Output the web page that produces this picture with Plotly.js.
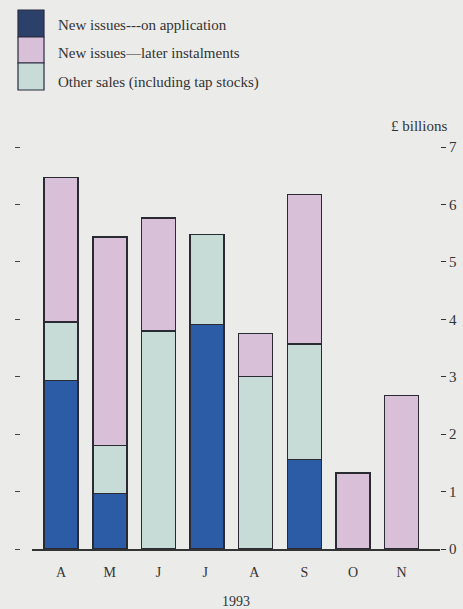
<!DOCTYPE html>
<html>
<head>
<meta charset="utf-8">
<script src="https://cdn.plot.ly/plotly-3.0.1.min.js"></script>
<style>html,body{margin:0;padding:0;background:#ebebea;}</style>
</head>
<body>
<div id="chart" style="width:463px;height:609px;"></div>
<script>
var months = ["A", "M", "J", "J ", "A ", "S", "O", "N"];
var onApplication = [2.93, 0.97, 0, 3.91, 0, 1.56, 0, 0];
var otherSales = [1.02, 0.83, 3.80, 1.57, 3.00, 2.01, 0, 0];
var laterInstalments = [2.52, 3.63, 1.96, 0, 0.75, 2.60, 1.32, 2.67];
var yTicks = [0, 1, 2, 3, 4, 5, 6, 7];
var seriesNames = ["New issues---on application", "New issues\u2014later instalments", "Other sales (including tap stocks)"];

var cDark = "#2c5ca6", cPink = "#d8c0d8", cGreen = "#c7dbd7";
var line = {color: "#2a2a33", width: 1.5};
var font = "Liberation Serif, Times New Roman, serif";
function keepX(a) { return months.filter(function(m, i){ return a[i] !== 0; }); }
function keepY(a) { return a.filter(function(v){ return v !== 0; }); }

var traces = [
  {type: "bar", x: keepX(onApplication), y: keepY(onApplication), name: seriesNames[0], marker: {color: cDark, line: line}, showlegend: false},
  {type: "bar", x: keepX(otherSales), y: keepY(otherSales), name: seriesNames[2], marker: {color: cGreen, line: line}, showlegend: false},
  {type: "bar", x: keepX(laterInstalments), y: keepY(laterInstalments), name: seriesNames[1], marker: {color: cPink, line: line}, showlegend: false},
  {type: "scatter", x: months, y: months.map(function(){return null;}), yaxis: "y2", showlegend: false, hoverinfo: "skip"}
];

var L = 20, R = 440, T = 147, B = 549;
function px(x) { return (x - L) / (R - L); }
function py(y) { return (B - y) / (B - T); }

var shapes = [];
var annotations = [];
var sw = [[10, 37, "#2b4169"], [37, 63, cPink], [63, 90, cGreen]];
var labelsY = [25, 53, 82];
for (var i = 0; i < 3; i++) {
  shapes.push({type: "rect", xref: "paper", yref: "paper", x0: px(18), x1: px(44), y0: py(sw[i][1]), y1: py(sw[i][0]),
    fillcolor: sw[i][2], line: {color: "#2a2a40", width: 1.2}});
  annotations.push({xref: "paper", yref: "paper", x: px(56), y: py(labelsY[i]), xanchor: "left", yanchor: "middle",
    text: seriesNames[i], showarrow: false, font: {family: font, size: 15, color: "#333"}});
}
annotations.push({xref: "paper", yref: "paper", x: px(449), y: py(126), xanchor: "right", yanchor: "middle",
  text: "\u00a3 billions", showarrow: false, font: {family: font, size: 15, color: "#333"}});

var layout = {
  width: 463, height: 609,
  margin: {l: L, r: 463 - R, t: T, b: 609 - B},
  paper_bgcolor: "#ebebea", plot_bgcolor: "#ebebea",
  barmode: "stack", bargap: 0.3,
  font: {family: font, size: 14, color: "#333"},
  xaxis: {domain: [px(32), 1], range: [-0.6, 7.79], categoryorder: "array", categoryarray: months,
    showline: true, linecolor: "#333", linewidth: 1.5,
    ticks: "", ticklabelstandoff: 10, showgrid: false, zeroline: false, tickfont: {family: font, size: 14, color: "#333"},
    title: {text: "1993", font: {family: font, size: 14, color: "#333"}, standoff: 18}, fixedrange: true},
  yaxis: {side: "right", range: [0, 7], tickvals: yTicks, ticktext: yTicks.map(String), ticks: "outside", ticklen: 5,
    tickcolor: "#333", showgrid: false, zeroline: false, showline: false, tickfont: {family: font, size: 15, color: "#333"}},
  yaxis2: {overlaying: "y", side: "left", anchor: "free", position: 0, range: [0, 7], tickvals: yTicks,
    showticklabels: false, ticks: "outside", ticklen: 5, tickcolor: "#444", showgrid: false, zeroline: false, showline: false},
  shapes: shapes,
  annotations: annotations
};

Plotly.newPlot("chart", traces, layout, {displayModeBar: false, staticPlot: true});
</script>
</body>
</html>
